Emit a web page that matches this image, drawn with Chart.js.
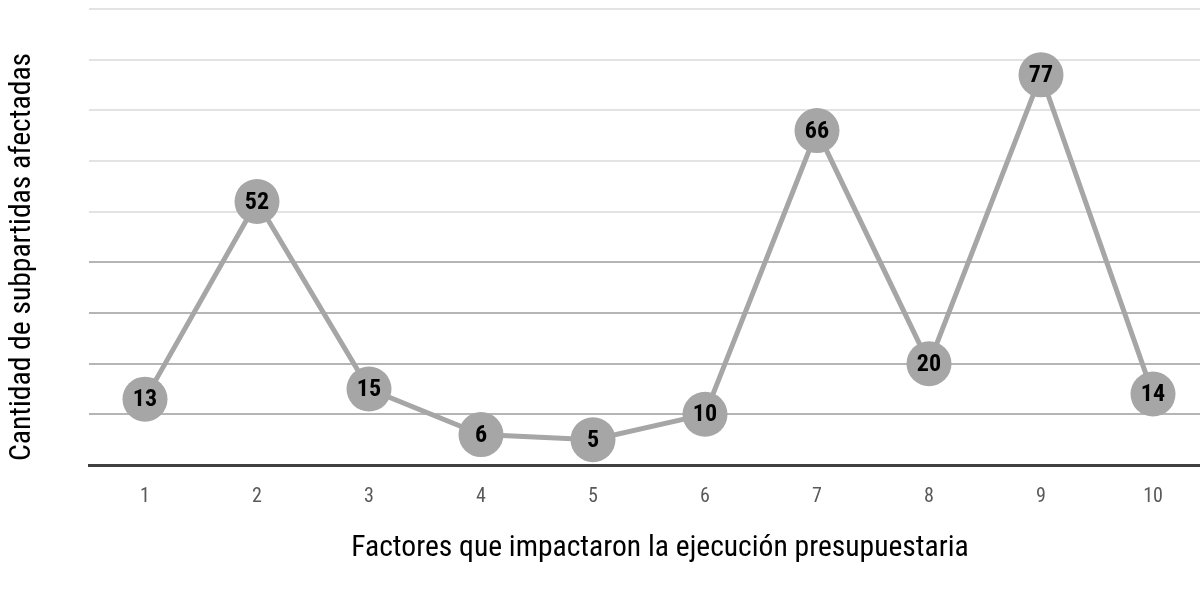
<!DOCTYPE html>
<html>
<head>
<meta charset="utf-8">
<script src="https://cdn.jsdelivr.net/npm/chart.js@4.4.0/dist/chart.umd.min.js"></script>
<style>
  html, body { margin: 0; padding: 0; background: #fff; overflow: hidden; }
  #wrap { width: 1209px; height: 593px; }
</style>
</head>
<body>
<div id="wrap"><canvas id="c"></canvas></div>
<script>
const factores = ['1', '2', '3', '4', '5', '6', '7', '8', '9', '10'];
const subpartidas = [13, 52, 15, 6, 5, 10, 66, 20, 77, 14];
const tituloX = 'Factores que impactaron la ejecución presupuestaria';
const tituloY = 'Cantidad de subpartidas afectadas';

const FONT = "'Roboto Condensed', 'Liberation Sans', Arial, sans-serif";
const GRIS = '#a6a6a6';

// value labels drawn in the centre of each marker
const etiquetas = {
  id: 'etiquetas',
  afterDatasetsDraw(chart) {
    const ctx = chart.ctx;
    const meta = chart.getDatasetMeta(0);
    const data = chart.data.datasets[0].data;
    ctx.save();
    ctx.font = 'bold 24px ' + FONT;
    ctx.fillStyle = '#000';
    ctx.textAlign = 'center';
    ctx.textBaseline = 'middle';
    meta.data.forEach((pt, i) => {
      ctx.fillText(String(data[i]), pt.x, pt.y + 1);
    });
    ctx.restore();
  }
};

// axis titles
const titulos = {
  id: 'titulos',
  afterDraw(chart) {
    const ctx = chart.ctx;
    ctx.save();
    ctx.font = '29.6px ' + FONT;
    ctx.fillStyle = '#000';
    ctx.textAlign = 'center';
    ctx.textBaseline = 'middle';
    ctx.fillText(tituloX, 660, 549);
    ctx.translate(23, 257);
    ctx.rotate(-Math.PI / 2);
    ctx.fillText(tituloY, 0, 0);
    ctx.restore();
  }
};

new Chart(document.getElementById('c'), {
  type: 'line',
  data: {
    labels: factores,
    datasets: [{
      data: subpartidas,
      borderColor: GRIS,
      borderWidth: 5,
      backgroundColor: GRIS,
      pointBackgroundColor: GRIS,
      pointBorderColor: GRIS,
      pointBorderWidth: 0,
      pointRadius: 22.5,
      pointHoverRadius: 22.5,
      tension: 0,
      clip: false
    }]
  },
  options: {
    responsive: true,
    maintainAspectRatio: false,
    animation: false,
    events: [],
    layout: { autoPadding: false, padding: { left: 89, right: 0, top: 9, bottom: 64 } },
    plugins: {
      legend: { display: false },
      tooltip: { enabled: false },
      title: { display: false }
    },
    scales: {
      x: {
        offset: true,
        grid: { display: false, drawTicks: false },
        border: { display: true, color: '#404040', width: 3 },
        ticks: {
          padding: 20,
          color: '#595959',
          font: { family: FONT, size: 20 }
        }
      },
      y: {
        min: 0,
        max: 90,
        ticks: { display: false, stepSize: 10 },
        border: { display: false },
        grid: {
          drawTicks: false,
          lineWidth: 2,
          color: (c) => {
            const v = c.tick ? c.tick.value : 0;
            if (v === 0) return 'rgba(0,0,0,0)';
            return v <= 40 ? '#b5b5b5' : '#e3e3e3';
          }
        }
      }
    }
  },
  plugins: [etiquetas, titulos]
});
</script>
</body>
</html>
